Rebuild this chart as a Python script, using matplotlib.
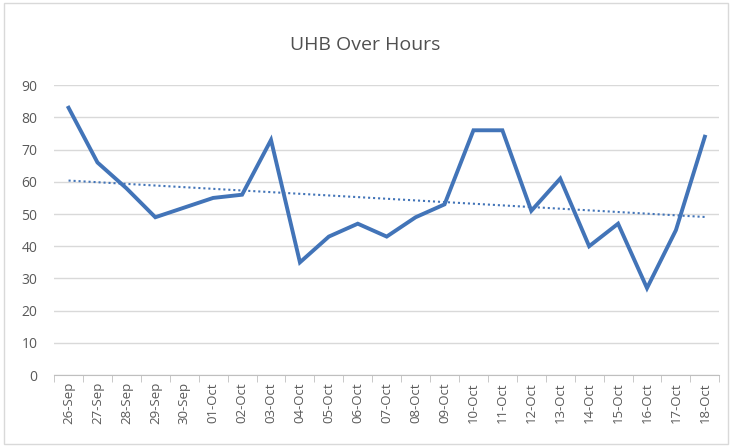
import numpy as np
import matplotlib.pyplot as plt

dates = ["26-Sep", "27-Sep", "28-Sep", "29-Sep", "30-Sep", "01-Oct", "02-Oct", "03-Oct",
         "04-Oct", "05-Oct", "06-Oct", "07-Oct", "08-Oct", "09-Oct", "10-Oct", "11-Oct",
         "12-Oct", "13-Oct", "14-Oct", "15-Oct", "16-Oct", "17-Oct", "18-Oct"]
hours = [83, 66, 58, 49, 52, 55, 56, 73, 35, 43, 47, 43, 49, 53, 76, 76, 51, 61, 40, 47, 27, 45, 74]

plt.rcParams['font.family'] = ['Open Sans', 'DejaVu Sans']

fig = plt.figure(figsize=(7.31, 4.46), dpi=100)
ax = fig.add_axes([0.074, 0.159, 0.91, 0.65])

x = np.arange(len(hours))
ax.plot(x, hours, color="#4274B8", lw=2.8, solid_joinstyle="miter", zorder=3)

# linear trendline
k, b = np.polyfit(x, hours, 1)
ax.plot(x, k * x + b, color="#4274B8", lw=1.5, ls=(0, (1, 1.4)), zorder=3)

ax.set_xlim(-0.5, len(hours) - 0.5)
ax.set_ylim(0, 90)
ax.set_yticks(range(0, 91, 10))
ax.yaxis.grid(True, color="#D9D9D9", lw=1)
ax.set_axisbelow(True)

ax.set_xticks(x)
ax.set_xticklabels(dates, rotation=90, fontsize=9.5, color="#595959")
ax.set_xticks(np.arange(-0.5, len(hours)), minor=True)
ax.tick_params(axis="x", which="major", length=0, pad=5)
ax.tick_params(axis="x", which="minor", length=5, color="#BFBFBF", direction="out")
ax.tick_params(axis="y", length=0, labelsize=10, labelcolor="#595959", pad=12)

for s in ["top", "right", "left"]:
    ax.spines[s].set_visible(False)
ax.spines["bottom"].set_color("#BFBFBF")

fig.text(0.5, 0.898, "UHB Over Hours", ha="center", va="center", fontsize=14, color="#505050")
fig.patches.append(plt.Rectangle((0.006, 0.004), 0.99, 0.99, transform=fig.transFigure,
                                 fill=False, edgecolor="#D9D9D9", lw=1))

fig.savefig("out.png", dpi=100)
